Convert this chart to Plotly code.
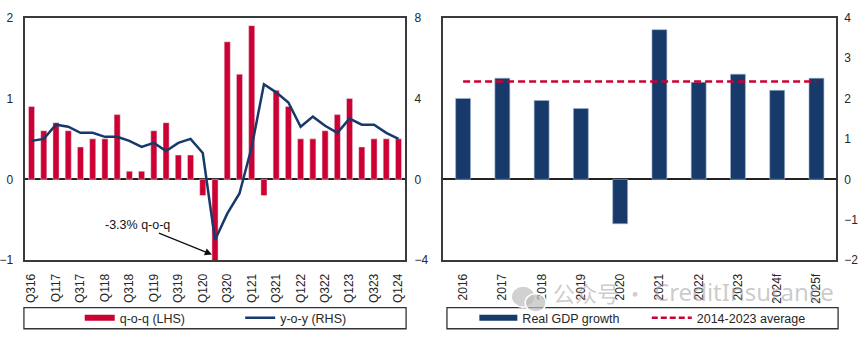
import plotly.graph_objects as go

# ---------------- data ----------------
quarters = ["Q316", "Q416", "Q117", "Q217", "Q317", "Q417", "Q118", "Q218",
            "Q318", "Q418", "Q119", "Q219", "Q319", "Q419", "Q120", "Q220",
            "Q320", "Q420", "Q121", "Q221", "Q321", "Q421", "Q122", "Q222",
            "Q322", "Q422", "Q123", "Q223", "Q323", "Q423", "Q124"]
quarter_ticks = quarters[::2]
qoq = [0.9, 0.6, 0.7, 0.6, 0.4, 0.5, 0.5, 0.8, 0.1, 0.1, 0.6, 0.7, 0.3, 0.3,
       -0.2, -3.3, 1.7, 1.3, 1.9, -0.2, 1.1, 0.9, 0.5, 0.5, 0.6, 0.8, 1.0,
       0.4, 0.5, 0.5, 0.5]
yoy = [1.9, 2.0, 2.7, 2.6, 2.3, 2.3, 2.1, 2.1, 1.9, 1.6, 1.8, 1.4, 1.8, 2.0,
       1.3, -3.0, -1.7, -0.7, 1.6, 4.7, 4.3, 3.8, 2.6, 3.1, 2.65, 2.3, 3.0,
       2.7, 2.7, 2.3, 2.0]
years = ["2016", "2017", "2018", "2019", "2020", "2021", "2022", "2023",
         "2024f", "2025f"]
gdp_growth = [2.0, 2.5, 1.95, 1.75, -1.1, 3.7, 2.4, 2.6, 2.2, 2.5]
avg_2014_2023 = 2.42

RED = "#cc0033"
NAVY = "#173a6a"
FONT = "Liberation Sans, Arial, sans-serif"
TXT = "#262626"
W, H = 865, 342


def px(x):
    return x / W


def py(y):
    return 1 - y / H


fig = go.Figure()

# left panel
fig.add_trace(go.Bar(x=quarters, y=qoq, marker_color=RED, width=0.5,
                     xaxis="x", yaxis="y", showlegend=False))
fig.add_trace(go.Scatter(x=quarters, y=yoy, mode="lines",
                         line=dict(color=NAVY, width=2.5),
                         xaxis="x", yaxis="y2", showlegend=False))
# right panel
fig.add_trace(go.Bar(x=years, y=gdp_growth, marker_color=NAVY, width=0.38,
                     marker_line=dict(color="#9fb3cf", width=0.6),
                     xaxis="x3", yaxis="y3", showlegend=False))
fig.add_trace(go.Scatter(x=[years[0], years[-1]], y=[avg_2014_2023] * 2,
                         mode="lines",
                         line=dict(color=RED, width=2.5, dash="7px,4px"),
                         xaxis="x3", yaxis="y3", showlegend=False))

# legend entries
fig.add_trace(go.Scatter(x=[None], y=[None], mode="lines", name="q-o-q (LHS)",
                         line=dict(color=RED, width=6), legend="legend"))
fig.add_trace(go.Scatter(x=[None], y=[None], mode="lines", name="y-o-y (RHS)",
                         line=dict(color=NAVY, width=2.5), legend="legend2"))
fig.add_trace(go.Scatter(x=[None], y=[None], mode="lines", name="Real GDP growth",
                         line=dict(color=NAVY, width=6), legend="legend3"))
fig.add_trace(go.Scatter(x=[None], y=[None], mode="lines", name="2014-2023 average",
                         line=dict(color=RED, width=2.5, dash="6px,3px"),
                         legend="legend4"))

ydom = [py(264), py(11)]
frame = dict(showline=True, linecolor="#3a3a3a", linewidth=1.5, mirror=True,
             showgrid=False)
tickfont = dict(family=FONT, size=12, color=TXT)

leg_common = dict(orientation="h", xanchor="left", yanchor="middle",
                  bgcolor="rgba(0,0,0,0)", borderwidth=0,
                  font=dict(family=FONT, size=12.5, color=TXT))

fig.update_layout(
    width=W, height=H, margin=dict(l=0, r=0, t=0, b=0),
    paper_bgcolor="white", plot_bgcolor="white",
    font=dict(family=FONT, color=TXT),
    xaxis=dict(domain=[px(23.5), px(404)], anchor="y", type="category",
               tickvals=quarter_ticks, ticktext=quarter_ticks, tickangle=-90,
               tickfont=tickfont, ticks="", ticklabelstandoff=7, **frame),
    yaxis=dict(domain=ydom, anchor="x", range=[-1, 2], dtick=1,
               tickfont=tickfont, ticks="", ticklabelstandoff=8,
               zeroline=True, zerolinecolor="#222", zerolinewidth=1.5, **frame),
    yaxis2=dict(overlaying="y", side="right", anchor="x", range=[-4, 8],
                dtick=4, tickfont=tickfont, ticks="", ticklabelstandoff=9,
                showgrid=False, zeroline=False, showline=False),
    xaxis3=dict(domain=[px(443), px(837)], anchor="y3", type="category",
                tickangle=-90, tickfont=tickfont, ticks="",
                ticklabelstandoff=7, **frame),
    yaxis3=dict(domain=ydom, anchor="x3", side="right", range=[-2, 4],
                dtick=1, tickfont=tickfont, ticks="", ticklabelstandoff=4,
                zeroline=True, zerolinecolor="#222", zerolinewidth=1.5,
                **frame),
    legend=dict(x=px(78), y=py(324.5), itemwidth=30, **leg_common),
    legend2=dict(x=px(239), y=py(324.5), itemwidth=30, **leg_common),
    legend3=dict(x=px(474), y=py(324.5), itemwidth=38, **leg_common),
    legend4=dict(x=px(647), y=py(324.5), itemwidth=40, **leg_common),
    shapes=[
        dict(type="rect", xref="paper", yref="paper", x0=px(22), x1=px(405.5),
             y0=py(335.5), y1=py(313.5), line=dict(color="#333", width=1.3)),
        dict(type="rect", xref="paper", yref="paper", x0=px(446.5), x1=px(839),
             y0=py(335.5), y1=py(313.5), line=dict(color="#333", width=1.3)),
        # watermark icon
        dict(type="circle", xref="paper", yref="paper", x0=px(511), x1=px(535),
             y0=py(313), y1=py(291), fillcolor="rgba(190,190,190,0.7)",
             line=dict(color="white", width=1.5)),
        dict(type="circle", xref="paper", yref="paper", x0=px(525), x1=px(546),
             y0=py(318), y1=py(299), fillcolor="rgba(190,190,190,0.7)",
             line=dict(color="white", width=1.5)),
    ],
    annotations=[
        dict(text="-3.3% q-o-q", xref="x", yref="y", x=14.75, y=-0.93,
             axref="pixel", ayref="pixel", ax=-74, ay=-30, showarrow=True,
             arrowhead=2, arrowsize=1.1, arrowwidth=1.3, arrowcolor="#111",
             font=dict(family=FONT, size=12.5, color="#111")),
        dict(text="公众号 ·", xref="paper", yref="paper", x=px(551), y=py(316),
             xanchor="left", yanchor="bottom", showarrow=False,
             font=dict(family="Noto Sans CJK SC", size=22,
                       color="rgba(160,160,160,0.55)")),
        dict(text="CreditInsurance", xref="paper", yref="paper", x=px(652),
             y=py(316), xanchor="left", yanchor="bottom", showarrow=False,
             font=dict(family="Noto Sans", size=24,
                       color="rgba(160,160,160,0.55)")),
    ],
)

fig.write_html("out.html")
